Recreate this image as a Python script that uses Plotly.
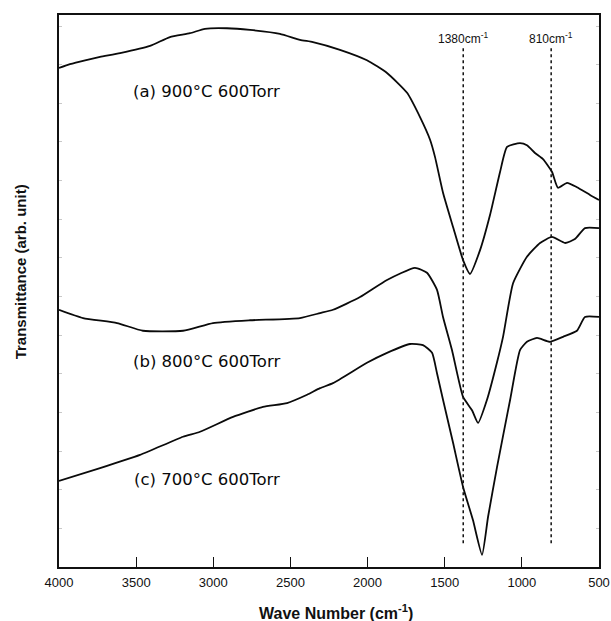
import plotly.graph_objects as go

# ---- data (wave number in cm^-1, transmittance in arbitrary units) ----
wn_a = [4000, 3929, 3831, 3734, 3604, 3410, 3281, 3151, 3054, 2911, 2762, 2568,
        2438, 2354, 2179, 2004, 1874, 1744, 1660, 1595, 1563, 1511, 1446, 1381,
        1336, 1271, 1206, 1141, 1096, 1012, 967, 915, 863, 805, 766, 707, 643,
        558, 500]
t_a = [90.4, 91.1, 91.8, 92.4, 93.1, 94.4, 96.0, 96.7, 97.5, 97.6, 97.3, 96.6,
       95.5, 95.1, 93.7, 91.8, 89.5, 85.9, 81.5, 77.4, 74.3, 67.8, 61.6, 55.6,
       53.1, 57.4, 63.8, 71.6, 76.1, 76.8, 76.4, 75.0, 73.9, 71.6, 68.7, 69.6,
       68.8, 67.4, 66.5]

wn_b = [4000, 3844, 3624, 3456, 3196, 3002, 2762, 2438, 2308, 2224, 2049, 1874,
        1693, 1615, 1550, 1511, 1453, 1381, 1323, 1284, 1226, 1161, 1122, 1057,
        967, 882, 805, 720, 656, 591, 500]
t_b = [46.6, 45.1, 44.2, 42.8, 42.8, 44.2, 44.7, 45.1, 46.0, 46.6, 48.9, 52.0,
       54.2, 53.3, 50.2, 45.3, 39.3, 30.8, 28.4, 26.1, 30.3, 37.1, 41.7, 51.4,
       56.2, 58.7, 59.8, 58.7, 59.4, 61.4, 61.4]

wn_c = [4000, 3734, 3475, 3196, 3086, 2872, 2678, 2522, 2392, 2308, 2224, 2004,
        1874, 1725, 1641, 1582, 1550, 1511, 1446, 1381, 1317, 1258, 1219, 1161,
        1076, 1012, 967, 902, 817, 733, 643, 591, 500]
t_c = [15.6, 17.9, 20.3, 23.6, 24.5, 27.2, 29.0, 29.7, 31.2, 32.4, 33.3, 37.0,
       38.8, 40.4, 40.2, 38.8, 35.1, 30.3, 22.5, 14.5, 8.5, 2.2, 9.1, 18.1,
       30.3, 39.3, 40.8, 41.5, 40.8, 41.7, 42.8, 45.3, 45.3]

series_names = ["(a) 900°C 600Torr", "(b) 800°C 600Torr", "(c) 700°C 600Torr"]
label_wn = [3041, 3041, 3041]
label_t = [86.2, 37.2, 15.8]

ref_wn = [1380, 810]
ref_labels = ["1380cm<sup>-1</sup>", "810cm<sup>-1</sup>"]
ref_t_range = [4.3, 94.2]
ref_label_t = 95.9

x_ticks = [4000, 3500, 3000, 2500, 2000, 1500, 1000, 500]

fig = go.Figure()

for wn, t, name in zip([wn_a, wn_b, wn_c], [t_a, t_b, t_c], series_names):
    fig.add_trace(go.Scatter(x=wn, y=t, mode="lines", name=name,
                             line=dict(color="#0a0a0a", width=1.8,
                                       shape="spline", smoothing=0.5),
                             showlegend=False))

for w in ref_wn:
    fig.add_trace(go.Scatter(x=[w, w], y=ref_t_range, mode="lines",
                             line=dict(color="#111111", width=1.5, dash="dot"),
                             showlegend=False))

for w, lab in zip(ref_wn, ref_labels):
    fig.add_annotation(x=w, y=ref_label_t, text=lab, showarrow=False,
                       yanchor="middle",
                       font=dict(family="Liberation Sans, Arial", size=12, color="#111111"))

for w, t, name in zip(label_wn, label_t, series_names):
    fig.add_annotation(x=w, y=t, text=name, showarrow=False, yanchor="middle",
                       font=dict(family="DejaVu Sans", size=16.5, color="#0a0a0a"))

fig.add_annotation(xref="paper", yref="paper", x=0.513, y=-0.0815,
                   xanchor="center", yanchor="middle",
                   text="Wave Number (cm<sup>-1</sup>)", showarrow=False,
                   font=dict(family="Liberation Sans, Arial", size=16,
                             color="#111111", weight="bold"))
fig.add_annotation(xref="paper", yref="paper", x=-0.072, y=0.534,
                   xanchor="center", yanchor="middle",
                   text="Transmittance (arb. unit)", showarrow=False,
                   textangle=-90,
                   font=dict(family="Liberation Sans, Arial", size=15,
                             color="#111111", weight="bold"))

fig.update_xaxes(range=[4000, 500], tickvals=x_ticks,
                 ticktext=[str(v) for v in x_ticks], automargin=False,
                 ticks="inside", ticklen=10, tickwidth=1.2, tickcolor="#111111",
                 ticklabelstandoff=3,
                 showline=True, linecolor="#111111", linewidth=1.6, mirror=True,
                 showgrid=False, zeroline=False,
                 tickfont=dict(family="Liberation Sans, Arial", size=13, color="#111111"))
fig.update_yaxes(range=[0, 100], showticklabels=False, automargin=False,
                 ticks="inside", ticklen=3, tickwidth=1, tickcolor="#c8c8c8",
                 dtick=7,
                 showline=True, linecolor="#111111", linewidth=1.6, mirror="ticks",
                 showgrid=False, zeroline=False)

fig.update_layout(width=611, height=621,
                  margin=dict(l=59, r=12, t=15, b=54),
                  paper_bgcolor="white", plot_bgcolor="white")

fig.write_html("out.html")
